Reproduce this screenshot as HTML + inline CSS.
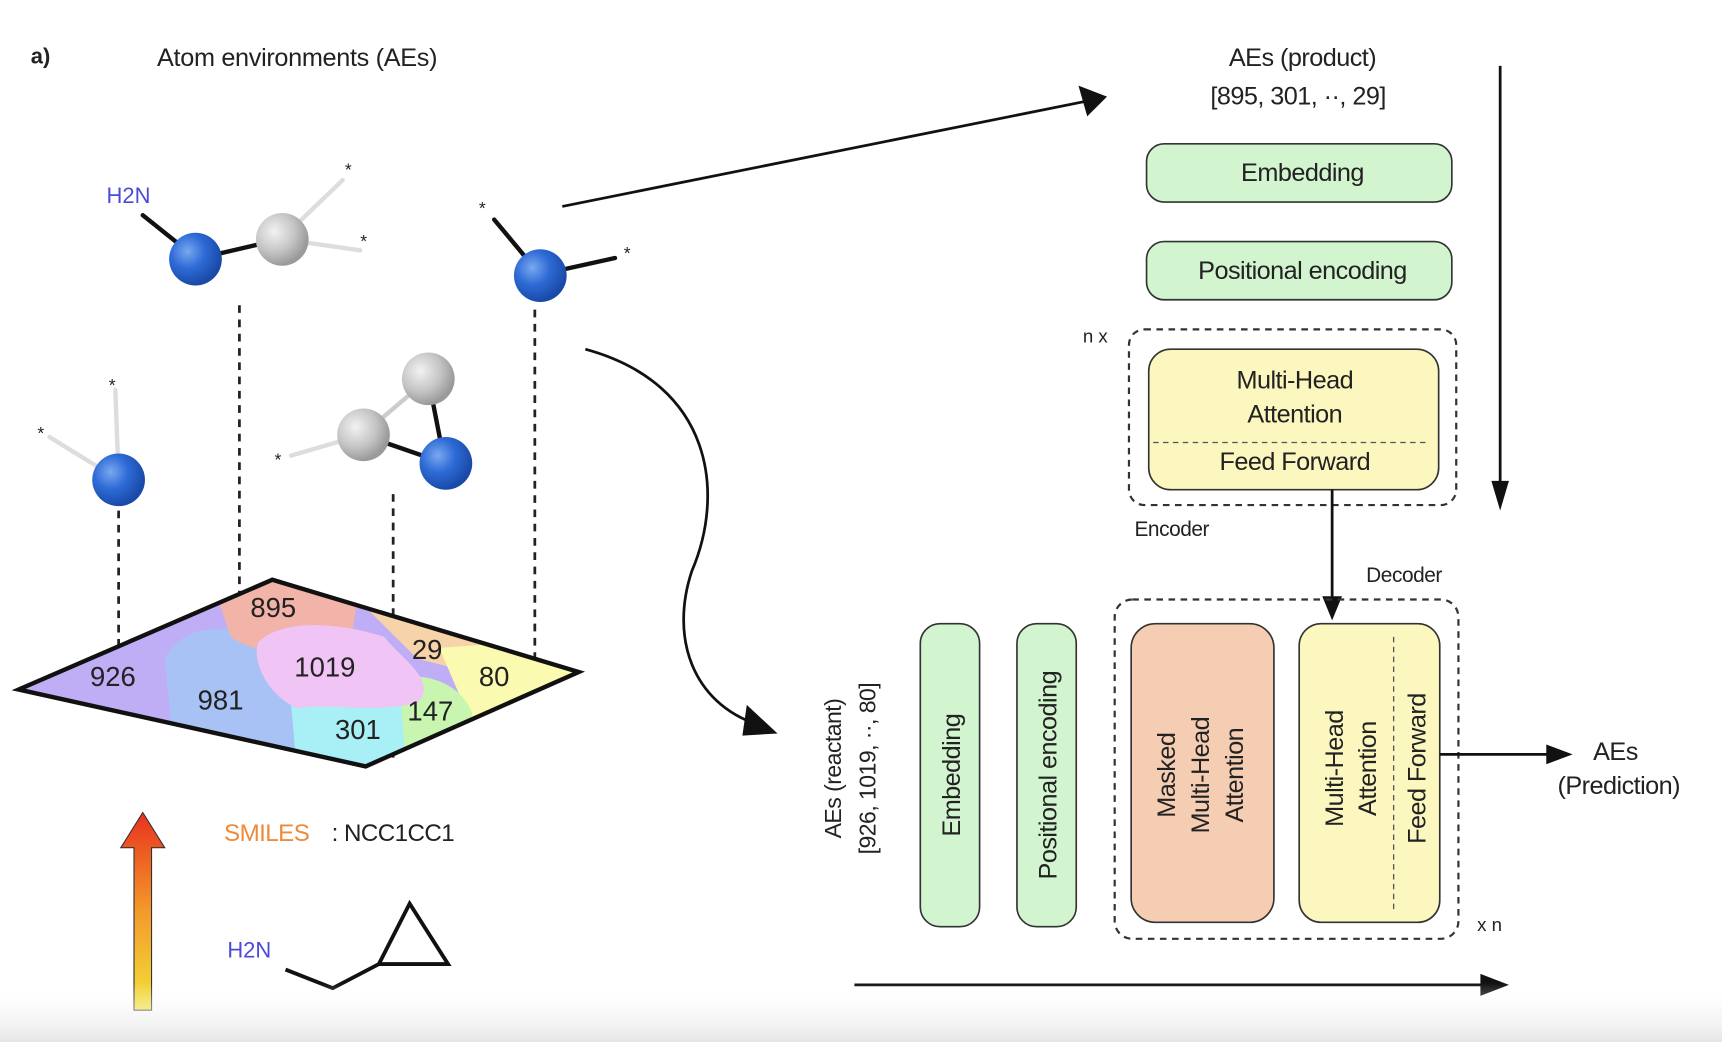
<!DOCTYPE html>
<html><head><meta charset="utf-8"><style>
html,body{margin:0;padding:0;background:#fff}
svg{display:block}
text{font-family:"Liberation Sans",sans-serif;fill:#222}
</style></head><body>
<svg width="1722" height="1042" viewBox="0 0 1568 949" preserveAspectRatio="none" xmlns="http://www.w3.org/2000/svg">
<defs>
<radialGradient id="blue" cx="35%" cy="35%" r="65%"><stop offset="0" stop-color="#7aa8f0"/><stop offset="0.5" stop-color="#2e6bd6"/><stop offset="1" stop-color="#1a4aa8"/></radialGradient>
<radialGradient id="grey" cx="35%" cy="35%" r="65%"><stop offset="0" stop-color="#f2f2f2"/><stop offset="0.6" stop-color="#c4c4c4"/><stop offset="1" stop-color="#9a9a9a"/></radialGradient>
<linearGradient id="arr" x1="0" y1="1" x2="0" y2="0"><stop offset="0" stop-color="#f3e23a"/><stop offset="0.5" stop-color="#f39a2a"/><stop offset="1" stop-color="#e8321e"/></linearGradient>
<linearGradient id="fade" x1="0" y1="0" x2="0" y2="1"><stop offset="0" stop-color="#fff" stop-opacity="0"/><stop offset="1" stop-color="#e6e6e6"/></linearGradient>
<clipPath id="dia"><polygon points="17,628 248,528 527,612 333,698"/></clipPath>
</defs>

<text x="28" y="58" font-size="20" font-weight="bold">a)</text>
<text x="143" y="60" font-size="23" letter-spacing="-0.3">Atom environments (AEs)</text>

<g stroke-width="4" stroke-linecap="round">
<line x1="130" y1="196" x2="175" y2="232" stroke="#111"/>
<line x1="178" y1="236" x2="255" y2="218" stroke="#111"/>
<line x1="258" y1="216" x2="312" y2="164" stroke="#ddd"/>
<line x1="258" y1="218" x2="328" y2="228" stroke="#ddd"/>
<line x1="450" y1="200" x2="490" y2="248" stroke="#111"/>
<line x1="492" y1="250" x2="560" y2="235" stroke="#111"/>
<line x1="105" y1="355" x2="108" y2="435" stroke="#ddd"/>
<line x1="45" y1="398" x2="105" y2="435" stroke="#ddd"/>
<line x1="265" y1="415" x2="330" y2="396" stroke="#ddd"/>
<line x1="330" y1="396" x2="390" y2="345" stroke="#ccc"/>
<line x1="330" y1="396" x2="405" y2="422" stroke="#111"/>
<line x1="390" y1="345" x2="405" y2="422" stroke="#111"/>
</g>
<circle cx="178" cy="236" r="24" fill="url(#blue)"/>
<circle cx="257" cy="218" r="24" fill="url(#grey)"/>
<circle cx="492" cy="251" r="24" fill="url(#blue)"/>
<circle cx="108" cy="437" r="24" fill="url(#blue)"/>
<circle cx="331" cy="396" r="24" fill="url(#grey)"/>
<circle cx="390" cy="345" r="24" fill="url(#grey)"/>
<circle cx="406" cy="422" r="24" fill="url(#blue)"/>
<text x="97" y="185" font-size="20" style="fill:#4b4bd8">H2N</text>
<g font-size="16"><text x="314" y="160">*</text><text x="328" y="225">*</text><text x="436" y="195">*</text><text x="568" y="236">*</text><text x="99" y="356">*</text><text x="34" y="400">*</text><text x="250" y="424">*</text></g>

<g stroke="#222" stroke-width="2.5" stroke-dasharray="7,6">
<line x1="108" y1="465" x2="108" y2="600"/>
<line x1="218" y1="278" x2="218" y2="540"/>
<line x1="358" y1="450" x2="358" y2="690"/>
<line x1="487" y1="282" x2="487" y2="620"/>
</g>

<g clip-path="url(#dia)">
<rect x="0" y="500" width="560" height="220" fill="#bfaef5"/>
<path d="M150,600 C170,560 230,570 250,590 C280,610 280,650 270,700 L160,700 Z" fill="#a9c2f5"/>
<path d="M190,520 L330,520 L320,580 C290,600 240,600 210,580 Z" fill="#f2b3a8"/>
<path d="M300,520 L520,520 L520,600 L420,610 L380,600 Z" fill="#f6d3a8"/>
<path d="M400,590 L540,580 L540,700 L430,660 Z" fill="#fafab0"/>
<path d="M360,620 C380,610 420,620 430,650 L420,700 L365,700 Z" fill="#c8f5b0"/>
<path d="M265,640 C300,625 340,630 365,640 L370,700 L270,700 Z" fill="#a8f0f5"/>
<path d="M235,585 C260,560 320,570 350,580 C365,600 400,620 380,640 C340,650 300,640 270,645 C240,630 230,600 235,585 Z" fill="#f0c4f5"/>
</g>
<polygon points="17,628 248,528 527,612 333,698" fill="none" stroke="#111" stroke-width="4"/>
<g font-size="25">
<text x="228" y="562">895</text><text x="82" y="625">926</text><text x="268" y="616">1019</text><text x="375" y="600">29</text>
<text x="436" y="625">80</text><text x="180" y="646">981</text><text x="371" y="656">147</text><text x="305" y="673">301</text>
</g>

<polygon points="122,920 138,920 138,772 150,772 130,740 110,772 122,772" fill="url(#arr)" stroke="#333" stroke-width="1"/>
<text x="204" y="766" font-size="22" letter-spacing="-0.5" style="fill:#ef8a3a">SMILES</text>
<text x="302" y="766" font-size="22" letter-spacing="-0.5">: NCC1CC1</text>
<text x="207" y="872" font-size="20" style="fill:#4b4bd8">H2N</text>
<polyline points="260,883 303,900 345,878" fill="none" stroke="#111" stroke-width="3.5"/>
<polygon points="345,878 373,823 408,878" fill="none" stroke="#111" stroke-width="3.5"/>

<line x1="512" y1="188" x2="1000" y2="90" stroke="#111" stroke-width="2.5"/>
<polygon points="1008,88 982,78 990,106" fill="#111"/>
<path d="M533,318 C650,350 660,450 630,520 C610,580 630,640 690,660" fill="none" stroke="#111" stroke-width="2.5"/>
<polygon points="708,668 680,642 676,670" fill="#111"/>

<g letter-spacing="-0.5">
<text x="1186" y="60" font-size="23" text-anchor="middle">AEs (product)</text>
<text x="1182" y="95" font-size="23" text-anchor="middle">[895, 301, ··, 29]</text>
</g>
<line x1="1366" y1="60" x2="1366" y2="440" stroke="#111" stroke-width="2.5"/>
<polygon points="1358,438 1374,438 1366,465" fill="#111"/>
<rect x="1044" y="131" width="278" height="53" rx="16" fill="#d2f5cf" stroke="#333" stroke-width="1.5"/>
<text x="1186" y="165" font-size="23" letter-spacing="-0.5" text-anchor="middle">Embedding</text>
<rect x="1044" y="220" width="278" height="53" rx="16" fill="#d2f5cf" stroke="#333" stroke-width="1.5"/>
<text x="1186" y="254" font-size="23" letter-spacing="-0.5" text-anchor="middle">Positional encoding</text>
<text x="986" y="312" font-size="17">n x</text>
<rect x="1028" y="300" width="298" height="160" rx="14" fill="none" stroke="#333" stroke-width="2" stroke-dasharray="6,5"/>
<rect x="1046" y="318" width="264" height="128" rx="20" fill="#fbf7bf" stroke="#333" stroke-width="1.5"/>
<g font-size="23" letter-spacing="-0.5" text-anchor="middle">
<text x="1179" y="354">Multi-Head</text>
<text x="1179" y="385">Attention</text>
<text x="1179" y="428">Feed Forward</text>
</g>
<line x1="1050" y1="403" x2="1300" y2="403" stroke="#555" stroke-width="1.2" stroke-dasharray="5,4"/>
<text x="1033" y="488" font-size="19" letter-spacing="-0.4">Encoder</text>
<line x1="1213" y1="446" x2="1213" y2="545" stroke="#111" stroke-width="2.5"/>
<polygon points="1204,543 1222,543 1213,565" fill="#111"/>

<text x="1244" y="530" font-size="19" letter-spacing="-0.4">Decoder</text>
<rect x="1015" y="546" width="313" height="309" rx="16" fill="none" stroke="#333" stroke-width="2" stroke-dasharray="6,5"/>
<text x="1345" y="848" font-size="17">x n</text>
<rect x="838" y="568" width="54" height="276" rx="18" fill="#d2f5cf" stroke="#333" stroke-width="1.5"/>
<rect x="926" y="568" width="54" height="276" rx="18" fill="#d2f5cf" stroke="#333" stroke-width="1.5"/>
<rect x="1030" y="568" width="130" height="272" rx="22" fill="#f5cdb3" stroke="#333" stroke-width="1.5"/>
<rect x="1183" y="568" width="128" height="272" rx="20" fill="#fbf7bf" stroke="#333" stroke-width="1.5"/>
<g font-size="23" letter-spacing="-0.5" text-anchor="middle">
<text transform="translate(874,706) rotate(-90)">Embedding</text>
<text transform="translate(962,706) rotate(-90)">Positional encoding</text>
<text transform="translate(1070,706) rotate(-90)">Masked</text>
<text transform="translate(1101,706) rotate(-90)">Multi-Head</text>
<text transform="translate(1132,706) rotate(-90)">Attention</text>
<text transform="translate(1223,700) rotate(-90)">Multi-Head</text>
<text transform="translate(1253,700) rotate(-90)">Attention</text>
<text transform="translate(1298,700) rotate(-90)">Feed Forward</text>
</g>
<line x1="1269" y1="580" x2="1269" y2="830" stroke="#555" stroke-width="1.2" stroke-dasharray="5,4"/>
<g font-size="21" letter-spacing="-0.5" text-anchor="middle">
<text transform="translate(766,700) rotate(-90)">AEs (reactant)</text>
<text transform="translate(797,700) rotate(-90)">[926, 1019, ··, 80]</text>
</g>
<line x1="1311" y1="687" x2="1410" y2="687" stroke="#111" stroke-width="2.5"/>
<polygon points="1408,678 1432,687 1408,696" fill="#111"/>
<g font-size="23" letter-spacing="-0.5" text-anchor="middle">
<text x="1471" y="692">AEs</text>
<text x="1474" y="723">(Prediction)</text>
</g>
<line x1="778" y1="897" x2="1350" y2="897" stroke="#111" stroke-width="2.5"/>
<polygon points="1348,887 1374,897 1348,907" fill="#111"/>

<rect x="0" y="895" width="1568" height="54" fill="url(#fade)"/>
</svg>
</body></html>
